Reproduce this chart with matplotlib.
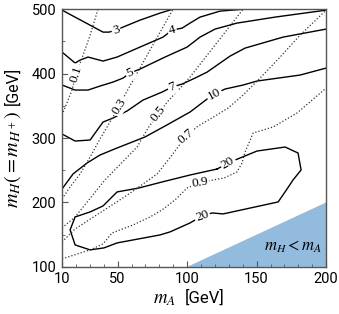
import matplotlib
matplotlib.use("Agg")
import matplotlib.pyplot as plt
from matplotlib.ticker import MultipleLocator

plt.rcParams['mathtext.fontset'] = 'stix'
plt.rcParams['font.family'] = ['Roboto', 'DejaVu Sans']

# ---- solid contours (mA, mH) ----
c3_mA = [10, 39.5, 43.8, 48.9, 53.9, 66.1, 80.5, 89.9]
c3_mH = [498.4, 464.3, 464.3, 467.4, 472.1, 482.9, 493.8, 500]

c4_mA = [10, 19.4, 23.0, 28.7, 39.5, 49.6, 66.1, 82.7, 89.2, 96.4, 102.1, 109.3, 123.7, 141.7]
c4_mH = [433.3, 416.3, 420.9, 425.6, 419.4, 425.6, 441.1, 456.6, 467.4, 470.5, 478.3, 487.6, 496.9, 500]

c5_mA = [10, 19.4, 28.7, 37.3, 46.7, 53.9, 58.9, 66.1, 84.1, 100.0, 109.3, 120.1, 135.9, 163.3, 200]
c5_mH = [382.2, 374.4, 374.4, 380.6, 386.8, 393.0, 400.8, 407.0, 425.6, 441.1, 456.6, 469.0, 478.3, 487.6, 498.4]

c7_mA = [10, 19.4, 30.2, 39.5, 46.7, 56.8, 68.3, 82.0, 89.2, 96.4, 105.7, 114.4, 123.7, 130.9, 141.7, 169.1, 200]
c7_mH = [306.2, 295.3, 296.9, 324.8, 331.0, 341.9, 358.9, 371.3, 379.1, 383.7, 393.0, 402.3, 416.3, 427.1, 439.5, 456.6, 469.0]

c10_mA = [10, 17.9, 28.0, 37.3, 49.6, 69.7, 84.1, 102.1, 114.4, 119.4, 127.3, 140.3, 150.3, 181.3, 200]
c10_mH = [220.9, 244.2, 261.2, 273.6, 284.5, 301.6, 318.6, 340.3, 360.5, 368.2, 376.0, 382.2, 388.4, 397.7, 408.5]

c20_mA = [121.6, 129.5, 138.1, 150.3, 170.5, 179.8, 182.0, 176.2, 171.9, 165.5, 125.9, 118.0, 110.8,
          102.1, 87.7, 80.5, 49.6, 40.2, 30.2, 19.4, 15.8, 19.4, 30.2, 39.5, 49.6, 65.4, 82.0, 102.1, 121.6]
c20_mH = [251.9, 261.2, 269.0, 279.8, 286.0, 276.7, 250.4, 234.9, 220.9, 200.8, 182.2, 183.7, 179.1,
          168.2, 154.3, 149.6, 137.2, 129.5, 126.4, 134.1, 157.4, 177.5, 185.3, 194.6, 216.3, 222.5, 231.8, 242.6, 251.9]

# ---- dotted contours ----
d01_mA = [10, 17.2, 20.1, 24.4, 30.2, 35.9]
d01_mH = [335.7, 374.4, 399.2, 424.0, 459.7, 500]

d03_mA = [10, 15.8, 23.0, 30.2, 37.3, 44.5, 51.0, 56.8, 73.3, 89.9]
d03_mH = [205.4, 224.0, 244.2, 270.5, 298.4, 324.8, 349.6, 372.9, 436.4, 500]

d05_mA = [10, 19.4, 40.9, 64.0, 71.9, 79.1, 86.3, 96.4, 102.1, 140.3]
d05_mH = [160.5, 177.5, 234.9, 286.0, 315.5, 337.2, 357.4, 380.6, 394.6, 500]

d07_mA = [10, 19.4, 58.2, 78.4, 89.2, 99.2, 107.9, 120.1, 129.5, 140.3, 152.5, 166.9, 181.3, 200]
d07_mH = [138.8, 158.9, 213.2, 244.2, 273.6, 303.1, 318.6, 334.1, 346.5, 366.7, 393.0, 425.6, 459.7, 498.4]

d09_mA = [10, 30.2, 39.5, 46.0, 61.1, 73.3, 82.0, 91.3, 100.0, 109.3, 118.7, 126.6, 135.9, 139.5, 141.7, 147.5, 161.9, 179.1, 200]
d09_mH = [112.4, 126.4, 135.7, 152.7, 165.1, 177.5, 188.4, 203.9, 222.5, 230.2, 234.9, 238.0, 247.3, 261.2, 278.3, 307.8, 317.1, 338.8, 377.5]

# ---- contour labels: text, mA, mH, rotation ----
label_txt = ['3', '4', '5', '7', '10', '20', '20', '0.1', '0.3', '0.5', '0.7', '0.9']
label_mA = [48.9, 89.2, 58.9, 89.2, 119.4, 129.5, 110.8, 20.1, 51.0, 79.1, 99.2, 109.3]
label_mH = [467.4, 467.4, 400.8, 379.1, 368.2, 261.2, 179.1, 399.2, 349.6, 337.2, 303.1, 230.2]
label_rot = [18, 15, 25, 22, 28, 30, 20, 72, 58, 52, 40, 10]

# excluded region mH < mA
excl_mA = [100, 200, 200]
excl_mH = [100, 200, 100]

xticks = [10, 50, 100, 150, 200]
yticks = [100, 200, 300, 400, 500]

W, H = 339, 314
fig = plt.figure(figsize=(3.39, 3.14), dpi=100)
ax = fig.add_axes([0.183, 0.150, 0.779, 0.821])

ax.fill(excl_mA, excl_mH, color='#93bbdd', lw=0, zorder=1)

solid = [(c3_mA, c3_mH), (c4_mA, c4_mH), (c5_mA, c5_mH), (c7_mA, c7_mH),
         (c10_mA, c10_mH), (c20_mA, c20_mH)]
for xs, ys in solid:
    ax.plot(xs, ys, color='black', lw=1.0, zorder=2)

dotted = [(d01_mA, d01_mH), (d03_mA, d03_mH), (d05_mA, d05_mH), (d07_mA, d07_mH), (d09_mA, d09_mH)]
for xs, ys in dotted:
    ax.plot(xs, ys, color='#333333', lw=0.9, linestyle=(0, (1, 1.6)), zorder=2)

for t, x, y, r in zip(label_txt, label_mA, label_mH, label_rot):
    ax.text(x, y, t, rotation=r, ha='center', va='center', fontsize=9.5,
            family='Liberation Serif', rotation_mode='anchor',
            bbox=dict(boxstyle='square,pad=0.1', fc='white', ec='none'), zorder=3)

ax.text(176, 131, r'$m_H < m_A$', ha='center', va='center', fontsize=12, zorder=4)

ax.set_xlim(10, 200)
ax.set_ylim(100, 500)
ax.set_xticks(xticks)
ax.set_yticks(yticks)
ax.xaxis.set_minor_locator(MultipleLocator(10))
ax.yaxis.set_minor_locator(MultipleLocator(50))
ax.tick_params(which='both', direction='in', top=False, right=False, colors='#555555',
               labelcolor='black', labelsize=10.5)
ax.tick_params(which='major', length=4, pad=4)
ax.tick_params(which='minor', length=2.5)
for s in ax.spines.values():
    s.set_color('#555555')
    s.set_linewidth(1.0)

# axis titles: math symbol followed by the unit
def fx(px):
    return px / W

def fy(py):
    return 1 - py / H

fig.text(fx(153), fy(303), r'$m_A$', fontsize=13.5, ha='left', va='baseline')
fig.text(fx(224), fy(303), '[GeV]', fontsize=12, ha='right', va='baseline')

fig.text(fx(18), fy(208), r'$m_H(= m_{H^+})$', fontsize=14.5, rotation=90,
         rotation_mode='anchor', ha='left', va='baseline')
fig.text(fx(18), fy(67), '[GeV]', fontsize=11.5, rotation=90,
         rotation_mode='anchor', ha='right', va='baseline')

fig.savefig('out.png', dpi=100)
